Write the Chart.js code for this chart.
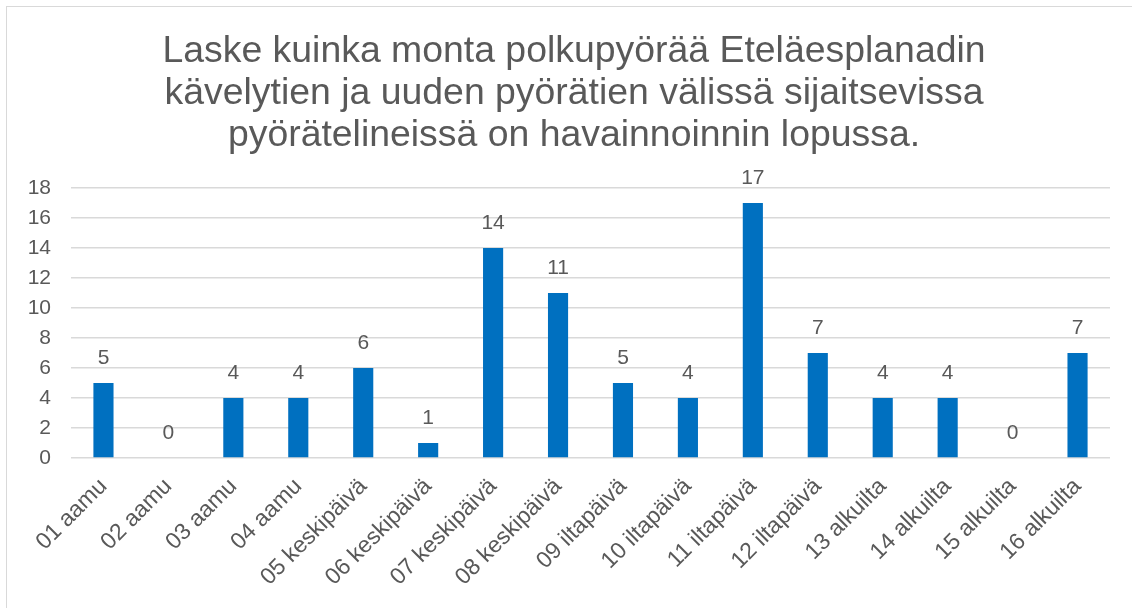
<!DOCTYPE html>
<html>
<head>
<meta charset="utf-8">
<script src="https://cdn.jsdelivr.net/npm/chart.js@4"></script>
<style>
  body { margin: 0; background: #fff; overflow: hidden; }
  #frame { position: absolute; left: 6px; top: 6px; width: 1140px; height: 620px; border: 1px solid #d9d9d9; }
  #wrap { position: absolute; left: 0; top: 0; width: 1132px; height: 608px; }
</style>
</head>
<body>
<div id="frame"></div>
<div id="wrap"><canvas id="mycanvas"></canvas></div>
<script>
var categories = ['01 aamu', '02 aamu', '03 aamu', '04 aamu', '05 keskipäivä', '06 keskipäivä',
  '07 keskipäivä', '08 keskipäivä', '09 iltapäivä', '10 iltapäivä', '11 iltapäivä', '12 iltapäivä',
  '13 alkuilta', '14 alkuilta', '15 alkuilta', '16 alkuilta'];
var bikes = [5, 0, 4, 4, 6, 1, 14, 11, 5, 4, 17, 7, 4, 4, 0, 7];
var titleLines = ['Laske kuinka monta polkupyörää Eteläesplanadin',
  'kävelytien ja uuden pyörätien välissä sijaitsevissa',
  'pyörätelineissä on havainnoinnin lopussa.'];

var textColor = '#595959';
var fontFamily = '"Liberation Sans", Arial, sans-serif';

// title drawn by hand so it can sit a bit right of the canvas centre
var chartTitle = {
  id: 'chartTitle',
  afterDraw: function(chart) {
    var ctx = chart.ctx;
    ctx.save();
    ctx.font = '37.4px ' + fontFamily;
    ctx.fillStyle = textColor;
    ctx.textAlign = 'center';
    ctx.textBaseline = 'alphabetic';
    titleLines.forEach(function(line, i) {
      ctx.fillText(line, 574, 62 + i * 42);
    });
    ctx.restore();
  }
};

// value labels above bars
var valueLabels = {
  id: 'valueLabels',
  afterDatasetsDraw: function(chart) {
    var ctx = chart.ctx;
    var meta = chart.getDatasetMeta(0);
    ctx.save();
    ctx.font = '21px ' + fontFamily;
    ctx.fillStyle = textColor;
    ctx.textAlign = 'center';
    ctx.textBaseline = 'middle';
    meta.data.forEach(function(bar, i) {
      ctx.fillText(String(bikes[i]), bar.x, bar.y - 25);
    });
    ctx.restore();
  }
};

var chartdata = {
  labels: categories,
  datasets: [{
    label: 'Polkupyörät',
    backgroundColor: '#0070C0',
    categoryPercentage: 1,
    barPercentage: 0.31,
    data: bikes
  }]
};

var barGraph = new Chart(document.getElementById('mycanvas'), {
  type: 'bar',
  data: chartdata,
  plugins: [valueLabels, chartTitle],
  options: {
    responsive: true,
    maintainAspectRatio: false,
    animation: false,
    layout: { padding: { left: 0, right: 22, top: 188, bottom: 0 } },
    plugins: {
      legend: { display: false },
      tooltip: { enabled: false },
      title: { display: false }
    },
    scales: {
      x: {
        grid: { display: false },
        border: { display: false },
        ticks: {
          color: textColor,
          font: { family: fontFamily, size: 23 },
          maxRotation: 45,
          minRotation: 45,
          autoSkip: false,
          padding: 7
        },
        afterFit: function(s) { s.height = 150; }
      },
      y: {
        min: 0,
        max: 18,
        grid: { color: '#d9d9d9', lineWidth: 1.5, drawTicks: false },
        border: { display: false },
        ticks: {
          stepSize: 2,
          color: textColor,
          font: { family: fontFamily, size: 21 },
          padding: 20
        },
        afterFit: function(s) { s.width = 71; }
      }
    }
  }
});
</script>
</body>
</html>
